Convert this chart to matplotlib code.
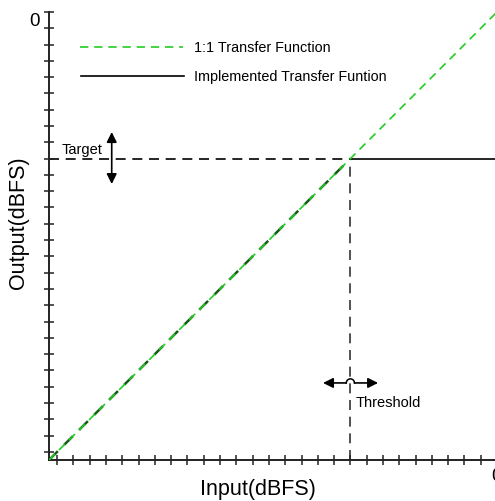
import matplotlib.pyplot as plt
import numpy as np

plt.rcParams['font.family'] = ['Liberation Sans', 'DejaVu Sans']

# dB values
x_min = -27.5
threshold = -9
target = -9
ticks = list(range(-27, 1))

one_to_one_x = [x_min, 0]
one_to_one_y = [x_min, 0]
below_x = [x_min, threshold]
below_y = [x_min, target]
above_x = [threshold, 0]
above_y = [target, target]

fig = plt.figure(figsize=(4.95, 5.02), dpi=100)
ax = fig.add_axes([49 / 495, 41 / 502, 448 / 495, 448 / 502])
ax.set_xlim(x_min, 0)
ax.set_ylim(x_min, 0)

for s in ['top', 'right']:
    ax.spines[s].set_visible(False)
for s in ['left', 'bottom']:
    ax.spines[s].set_linewidth(1.4)
    ax.spines[s].set_color('#222222')

ax.set_xticks(ticks)
ax.set_yticks(ticks)
ax.set_xticklabels([''] * len(ticks))
ax.set_yticklabels([''] * len(ticks))
ax.tick_params(direction='inout', length=6.5, width=1.1, color='#222222')

# "0" labels
fig.text(35 / 495, 1 - 22 / 502, '0', ha='center', va='center', fontsize=13.5)
fig.text(497 / 495, 1 - 477 / 502, '0', ha='center', va='center', fontsize=13.5)

ax.set_xlabel('Input(dBFS)', fontsize=15.5)
ax.set_ylabel('Output(dBFS)', fontsize=15.5)
ax.xaxis.set_label_coords(209 / 448, -18 / 448)
ax.yaxis.set_label_coords(-20 / 448, 238 / 448)

dash = (0, (5, 3.5))
# implemented transfer function (below threshold it sits under the 1:1 line)
ax.plot(below_x, below_y, color='#1a5a1a', lw=1.8, ls=dash, zorder=2)
ax.plot(above_x, above_y, color='black', lw=1.2, zorder=2)
# 1:1
ax.plot(one_to_one_x, one_to_one_y, color='#22cc22', lw=1.2, ls=dash, zorder=3)

# target / threshold guides
ax.plot([x_min, threshold], [target, target], color='black', lw=1.2, ls=(0, (6, 4)), zorder=1)
ax.plot([threshold, threshold], [x_min, target], color='#333333', lw=1.2, ls=(0, (6, 4)), zorder=1)

# target arrow
ax.annotate('', xy=(-23.65, -7.37), xytext=(-23.65, -10.56),
            arrowprops=dict(arrowstyle='<|-|>', color='black', lw=1.2,
                            mutation_scale=15, shrinkA=0, shrinkB=0))
ax.text(-26.7, -8.41, 'Target', fontsize=10.5, va='center', ha='left')

# threshold arrow with a hop over the dashed line
ax.annotate('', xy=(-10.68, -22.77), xytext=(threshold - 0.25, -22.77),
            arrowprops=dict(arrowstyle='-|>', color='black', lw=1.2,
                            mutation_scale=15, shrinkA=0, shrinkB=0))
ax.annotate('', xy=(-7.3, -22.77), xytext=(threshold + 0.25, -22.77),
            arrowprops=dict(arrowstyle='-|>', color='black', lw=1.2,
                            mutation_scale=15, shrinkA=0, shrinkB=0))
t = np.linspace(np.pi, 0, 20)
ax.plot(threshold + 0.25 * np.cos(t), -22.77 + 0.25 * np.sin(t), color='black', lw=1.1)
ax.text(-8.65, -23.94, 'Threshold', fontsize=10.5, va='center', ha='left')

# legend drawn by hand
ax.plot([-25.6, -19.27], [-2.15, -2.15], color='#22cc22', lw=1.2, ls=dash)
ax.text(-18.6, -2.15, '1:1 Transfer Function', fontsize=10.4, va='center')
ax.plot([-25.54, -19.2], [-3.93, -3.93], color='black', lw=1.2)
ax.text(-18.6, -3.93, 'Implemented Transfer Funtion', fontsize=10.4, va='center')

fig.savefig('out.png', dpi=100)
